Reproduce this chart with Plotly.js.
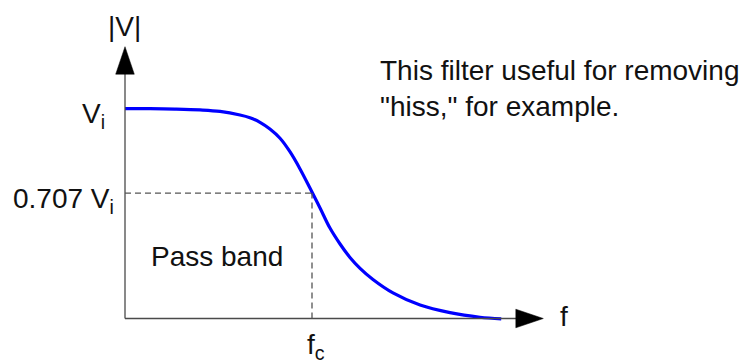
<!DOCTYPE html>
<html>
<head>
<meta charset="utf-8">
<script src="https://cdn.plot.ly/plotly-3.0.1.min.js"></script>
<style>
  html, body { margin: 0; padding: 0; background: #ffffff; }
  #chart { width: 744px; height: 364px; }
</style>
</head>
<body>
<div id="chart"></div>
<script>
// ---- data (frequency in units of f_c, magnitude in units of V_i) ----
const frequency = [0, 0.134, 0.267, 0.401, 0.508, 0.615, 0.668, 0.722, 0.775, 0.829, 0.882, 0.936, 0.989, 1.043, 1.096, 1.150, 1.203, 1.257, 1.326, 1.433, 1.578, 1.738, 1.898, 2.012];
const magnitude = [1.0, 1.0, 0.998, 0.994, 0.987, 0.970, 0.957, 0.935, 0.903, 0.859, 0.795, 0.713, 0.622, 0.527, 0.431, 0.355, 0.291, 0.239, 0.186, 0.122, 0.064, 0.028, 0.006, -0.002];
const cutoffFrequency = 1.0;
const cutoffLevel = 0.598;
const passbandLevel = 1.0;
const yTickLabels = ['V<sub>i</sub>', '0.707 V<sub>i</sub>'];
const xTickLabels = ['f<sub>c</sub>'];
const axisTitles = { x: 'f', y: '|V|' };
const noteText = 'This filter useful for removing<br>"hiss," for example.';
const bandText = 'Pass band';

// ---- layout geometry (pixels) ----
const W = 744, H = 364;
const ORIGIN_PX = { x: 125, y: 318.5 };
const UNIT_PX = { x: 187, y: 209.8 };
const px2x = p => (p - ORIGIN_PX.x) / UNIT_PX.x;
const py2y = p => (ORIGIN_PX.y - p) / UNIT_PX.y;
const dx = p => p / UNIT_PX.x;
const dy = p => p / UNIT_PX.y;

const yAxisTip = py2y(46.7);
const xAxisTip = px2x(543.3);
const HEAD_LEN = 27.5, HEAD_HALF = 9.3;

const FONT = 'Arial, "Liberation Sans", sans-serif';
const FS = 28;
const AXIS_COLOR = '#4a4a4a';
const DASH_COLOR = '#555555';

const shapes = [
  // y axis line
  { type: 'line', xref: 'x', yref: 'y', x0: 0, y0: 0, x1: 0, y1: yAxisTip - dy(HEAD_LEN) + dy(1),
    line: { color: AXIS_COLOR, width: 1.3 } },
  // x axis line
  { type: 'line', xref: 'x', yref: 'y', x0: 0, y0: 0, x1: xAxisTip - dx(HEAD_LEN) + dx(1), y1: 0,
    line: { color: AXIS_COLOR, width: 1.3 } },
  // y arrow head
  { type: 'path', xref: 'x', yref: 'y',
    path: `M ${0},${yAxisTip} L ${-dx(HEAD_HALF)},${yAxisTip - dy(HEAD_LEN)} L ${dx(HEAD_HALF)},${yAxisTip - dy(HEAD_LEN)} Z`,
    fillcolor: '#000000', line: { color: '#000000', width: 0.5 } },
  // x arrow head
  { type: 'path', xref: 'x', yref: 'y',
    path: `M ${xAxisTip},${0} L ${xAxisTip - dx(HEAD_LEN)},${dy(HEAD_HALF)} L ${xAxisTip - dx(HEAD_LEN)},${-dy(HEAD_HALF)} Z`,
    fillcolor: '#000000', line: { color: '#000000', width: 0.5 } },
  // cutoff guide lines
  { type: 'line', xref: 'x', yref: 'y', x0: 0, y0: cutoffLevel, x1: cutoffFrequency, y1: cutoffLevel,
    line: { color: DASH_COLOR, width: 1.3, dash: '6px,4px' } },
  { type: 'line', xref: 'x', yref: 'y', x0: cutoffFrequency, y0: 0, x1: cutoffFrequency, y1: cutoffLevel,
    line: { color: DASH_COLOR, width: 1.3, dash: '6px,4px' } }
];

const textFont = { family: FONT, size: FS, color: '#111111' };
const ann = (o) => Object.assign({ showarrow: false, font: textFont, borderpad: 0, borderwidth: 0 }, o);

const annotations = [
  ann({ xref: 'x', yref: 'y', x: 0, y: yAxisTip, xanchor: 'center', yanchor: 'bottom', xshift: -1, yshift: 5,
        text: axisTitles.y }),
  ann({ xref: 'x', yref: 'y', x: xAxisTip, y: 0, xanchor: 'left', yanchor: 'middle', xshift: 17, yshift: 2,
        text: axisTitles.x }),
  ann({ xref: 'x', yref: 'y', x: 0, y: passbandLevel, xanchor: 'right', yanchor: 'middle', xshift: -20, yshift: -7,
        text: yTickLabels[0] }),
  ann({ xref: 'x', yref: 'y', x: 0, y: cutoffLevel, xanchor: 'right', yanchor: 'middle', xshift: -11, yshift: -7,
        text: yTickLabels[1] }),
  ann({ xref: 'x', yref: 'y', x: cutoffFrequency, y: 0, xanchor: 'center', yanchor: 'top', xshift: 4, yshift: -10,
        text: xTickLabels[0] }),
  ann({ xref: 'x', yref: 'y', x: px2x(151), y: py2y(256), xanchor: 'left', yanchor: 'middle',
        text: bandText }),
  ann({ xref: 'x', yref: 'y', x: px2x(380), y: py2y(88), xanchor: 'left', yanchor: 'middle', align: 'left',
        text: noteText })
];

const trace = {
  type: 'scatter', mode: 'lines',
  x: frequency, y: magnitude,
  line: { color: '#0000ff', width: 3.2, shape: 'spline', smoothing: 1 },
  hoverinfo: 'skip'
};

const layout = {
  width: W, height: H,
  margin: { l: 0, r: 0, t: 0, b: 0, pad: 0 },
  paper_bgcolor: '#ffffff', plot_bgcolor: '#ffffff',
  showlegend: false,
  xaxis: { range: [px2x(0), px2x(W)], visible: false, fixedrange: true },
  yaxis: { range: [py2y(H), py2y(0)], visible: false, fixedrange: true },
  shapes: shapes,
  annotations: annotations
};

Plotly.newPlot('chart', [trace], layout, { displayModeBar: false, staticPlot: true });
</script>
</body>
</html>
